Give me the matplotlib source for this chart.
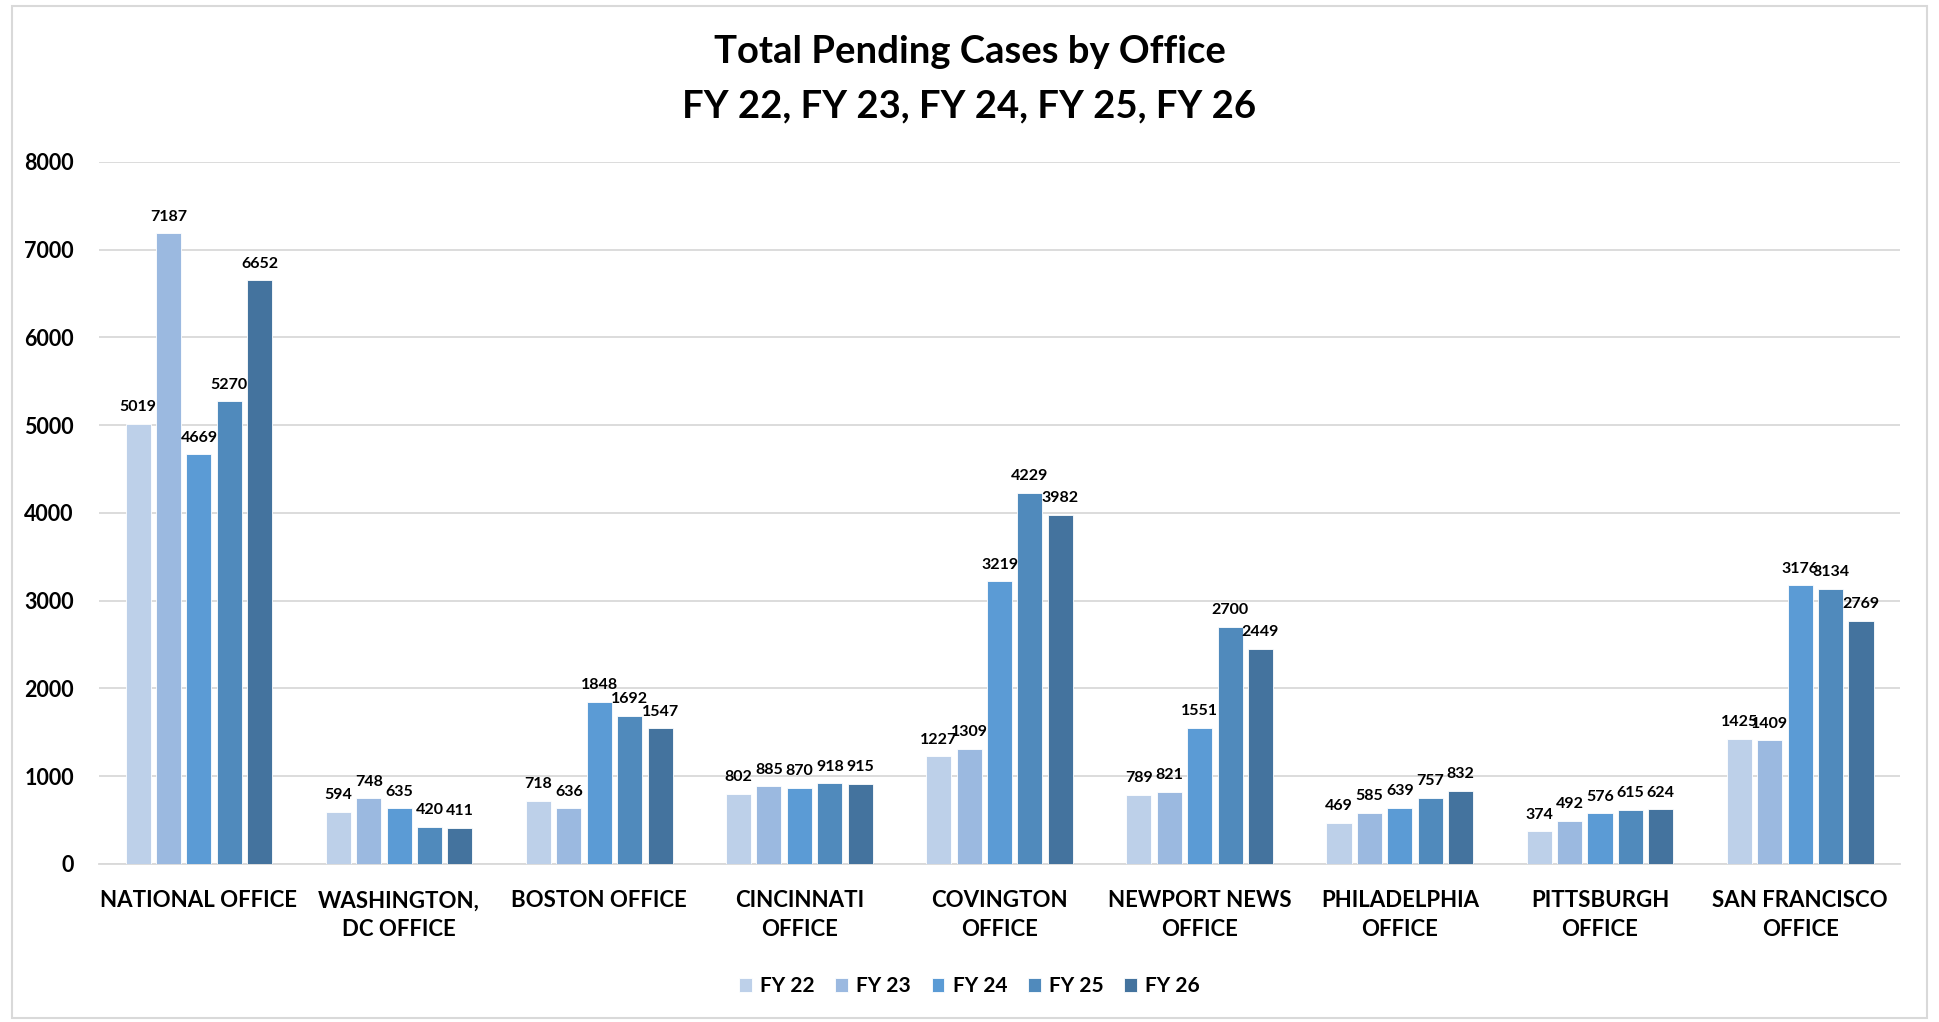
import matplotlib
matplotlib.use("Agg")
import matplotlib.pyplot as plt
import numpy as np
from matplotlib.patches import Rectangle

offices = [
    "NATIONAL OFFICE",
    "WASHINGTON,\nDC OFFICE",
    "BOSTON OFFICE",
    "CINCINNATI\nOFFICE",
    "COVINGTON\nOFFICE",
    "NEWPORT NEWS\nOFFICE",
    "PHILADELPHIA\nOFFICE",
    "PITTSBURGH\nOFFICE",
    "SAN FRANCISCO\nOFFICE",
]
years = ["FY 22", "FY 23", "FY 24", "FY 25", "FY 26"]
fy22 = [5019, 594, 718, 802, 1227, 789, 469, 374, 1425]
fy23 = [7187, 748, 636, 885, 1309, 821, 585, 492, 1409]
fy24 = [4669, 635, 1848, 870, 3219, 1551, 639, 576, 3176]
fy25 = [5270, 420, 1692, 918, 4229, 2700, 757, 615, 3134]
fy26 = [6652, 411, 1547, 915, 3982, 2449, 832, 624, 2769]
yticks = [0, 1000, 2000, 3000, 4000, 5000, 6000, 7000, 8000]

colors = ["#BDD0E9", "#9BB9E0", "#5B9BD5", "#508ABC", "#44739E"]

plt.rcParams["font.family"] = ["Lato", "DejaVu Sans"]
plt.rcParams["font.weight"] = "bold"

fig = plt.figure(figsize=(19.39, 10.22), dpi=100)
ax = fig.add_axes([0.051, 0.1546, 0.929, 0.687])

x = np.arange(len(offices))
pitch = 0.152
width = 0.125
series = [fy22, fy23, fy24, fy25, fy26]
for i, (vals, name, c) in enumerate(zip(series, years, colors)):
    pos = x + (i - 2) * pitch
    ax.bar(pos, vals, width=width, color=c, edgecolor="white", linewidth=0.6, label=name, zorder=3)
    for px, v in zip(pos, vals):
        ax.text(px, v + 110, str(v), ha="center", va="bottom", fontsize=11.5, fontweight="bold", zorder=4)

ax.set_xlim(-0.5, len(offices) - 0.5)
ax.set_ylim(0, 8000)
ax.set_yticks(yticks)
ax.set_yticklabels([str(t) for t in yticks], fontsize=15.5, fontweight="bold")
ax.set_xticks(x)
ax.set_xticklabels(offices, fontsize=16, fontweight="bold", linespacing=1.45)
ax.tick_params(axis="both", length=0)
ax.tick_params(axis="y", pad=18)
ax.tick_params(axis="x", pad=19)
ax.grid(axis="y", color="#D9D9D9", linewidth=1.3, zorder=0)
for s in ["top", "right", "left"]:
    ax.spines[s].set_visible(False)
ax.spines["bottom"].set_color("#D9D9D9")
ax.spines["bottom"].set_linewidth(1.3)

fig.text(0.5, 0.949, "Total Pending Cases by Office", ha="center", va="center", fontsize=27.5, fontweight="bold")
fig.text(0.5, 0.896, "FY 22, FY 23, FY 24, FY 25, FY 26", ha="center", va="center", fontsize=27.5, fontweight="bold")

ax.legend(loc="center", bbox_to_anchor=(0.5, 0.035), bbox_transform=fig.transFigure, ncol=5,
          frameon=False, prop={"size": 15, "weight": "bold"}, handlelength=0.6, handleheight=0.6,
          columnspacing=1.0, handletextpad=0.4)

fig.patches.append(Rectangle((0.006, 0.004), 0.988, 0.99, transform=fig.transFigure, fill=False,
                             edgecolor="#D9D9D9", linewidth=1.5))

fig.savefig("out.png", dpi=100)
